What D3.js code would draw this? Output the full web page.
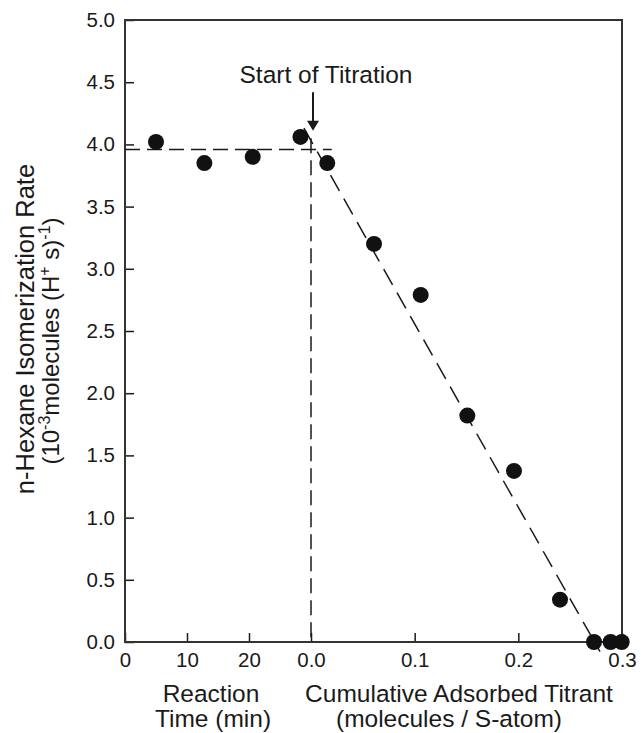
<!DOCTYPE html>
<html>
<head>
<meta charset="utf-8">
<script src="https://cdn.jsdelivr.net/npm/d3@7"></script>
<style>
    body { margin: 0; background: #fff; }
    svg { font-family: "Liberation Sans", Arial, sans-serif; }
</style>
</head>
<body>
<svg class="canvas" width="641" height="733"></svg>
<script>
// reaction time part (min)
const timeMin = [5.0, 12.8, 20.6, 28.3];
const timeRate = [4.02, 3.85, 3.90, 4.06];

// titration part (molecules / S-atom)
const titrant = [0.0157, 0.0608, 0.1058, 0.1508, 0.1958, 0.2402, 0.273, 0.289, 0.2997];
const titrantRate = [3.85, 3.20, 2.79, 1.82, 1.375, 0.34, 0, 0, 0];

// dashed guide lines
const baseLevel = 3.96, baseEnd = 0.020;
const trendLine = [[-0.0068, 4.13], [0.2788, -0.078]];
const startTop = 4.05;

const yTicks = [0, 0.5, 1, 1.5, 2, 2.5, 3, 3.5, 4, 4.5, 5];
const timeTicks = [0, 10, 20];
const titrantTicks = [0, 0.1, 0.2, 0.3];

const margin = {top: 20, right: 19, bottom: 91, left: 125};
const width = 641, height = 733;

const canvas = d3.select('.canvas');

const y = d3.scaleLinear().domain([0, 5]).range([height - margin.bottom, margin.top]);
const xTime = d3.scaleLinear().domain([0, 30]).range([margin.left, 311]);
const xTit = d3.scaleLinear().domain([0, 0.3]).range([311, width - margin.right]);

const ink = '#1a1a1a';

// axes
canvas.append('g')
    .attr('transform', `translate(${margin.left},0)`)
    .call(d3.axisLeft(y).tickValues(yTicks).tickFormat(d3.format('.1f')).tickSize(-9).tickPadding(10))
    .call(g => g.select('.domain').remove());

canvas.append('g')
    .attr('transform', `translate(0,${y(0)})`)
    .call(d3.axisBottom(xTime).tickValues(timeTicks).tickSize(-9).tickPadding(10))
    .call(g => g.select('.domain').remove());

canvas.append('g')
    .attr('transform', `translate(0,${y(0)})`)
    .call(d3.axisBottom(xTit).tickValues(titrantTicks).tickFormat(d3.format('.1f')).tickSize(-9).tickPadding(10))
    .call(g => g.select('.domain').remove());

canvas.selectAll('.tick text').attr('font-size', 20.5).attr('fill', ink).attr('font-family', null);
canvas.selectAll('.tick line').attr('stroke', ink).attr('stroke-width', 1.5);

// frame
canvas.append('rect')
    .attr('x', margin.left)
    .attr('y', margin.top)
    .attr('width', width - margin.right - margin.left)
    .attr('height', y(0) - margin.top)
    .attr('fill', 'none')
    .attr('stroke', '#333')
    .attr('stroke-width', 2);

// dashed lines
const dash = '15,7';
canvas.append('line')
    .attr('x1', xTime(0)).attr('x2', xTit(baseEnd))
    .attr('y1', y(baseLevel)).attr('y2', y(baseLevel))
    .attr('stroke', ink).attr('stroke-width', 1.5).attr('stroke-dasharray', dash);

canvas.append('line')
    .attr('x1', xTit(0)).attr('x2', xTit(0))
    .attr('y1', y(startTop)).attr('y2', y(0))
    .attr('stroke', ink).attr('stroke-width', 1.5).attr('stroke-dasharray', dash);

canvas.append('line')
    .attr('x1', xTit(trendLine[0][0])).attr('y1', y(trendLine[0][1]))
    .attr('x2', xTit(trendLine[1][0])).attr('y2', y(trendLine[1][1]))
    .attr('stroke', ink).attr('stroke-width', 1.5).attr('stroke-dasharray', '18,9');

// points
canvas.append('g').selectAll('circle')
    .data(timeMin.map((d, i) => [xTime(d), y(timeRate[i])])
        .concat(titrant.map((d, i) => [xTit(d), y(titrantRate[i])])))
    .enter()
    .append('circle')
    .attr('cx', d => d[0])
    .attr('cy', d => d[1])
    .attr('r', 8)
    .attr('fill', '#111');

// annotation arrow
const ax = xTit(0) + 2;
canvas.append('line')
    .attr('x1', ax).attr('x2', ax)
    .attr('y1', y(4.42)).attr('y2', y(4.17))
    .attr('stroke', ink).attr('stroke-width', 2);
canvas.append('path')
    .attr('d', `M${ax - 6},${y(4.19)} L${ax + 6},${y(4.19)} L${ax},${y(4.11)} Z`)
    .attr('fill', ink);

canvas.append('text')
    .attr('x', 326).attr('y', 83)
    .attr('text-anchor', 'middle')
    .attr('font-size', 24.5)
    .attr('fill', ink)
    .text('Start of Titration');

// x labels
const xLabel = (txt, x, yy) => canvas.append('text')
    .attr('x', x).attr('y', yy)
    .attr('text-anchor', 'middle')
    .attr('font-size', 24.5)
    .attr('fill', ink)
    .text(txt);
xLabel('Reaction', 211, 702);
xLabel('Time (min)', 213, 727);
xLabel('Cumulative Adsorbed Titrant', 459, 702);
xLabel('(molecules / S-atom)', 449, 727);

// y label
canvas.append('text')
    .attr('transform', 'translate(34,329) rotate(-90)')
    .attr('text-anchor', 'middle')
    .attr('font-size', 25.5)
    .attr('fill', ink)
    .text('n-Hexane Isomerization Rate');

const yl2 = canvas.append('text')
    .attr('transform', 'translate(59,341) rotate(-90)')
    .attr('text-anchor', 'middle')
    .attr('font-size', 24)
    .attr('fill', ink);
const parts = [['(10', false], ['-3', true], ['molecules (H', false], ['+', true], [' s)', false], ['-1', true], [')', false]];
parts.forEach(([t, sup]) => {
    const ts = yl2.append('tspan').text(t);
    if (sup) ts.attr('font-size', 16).attr('baseline-shift', '55%');
});
</script>
</body>
</html>
